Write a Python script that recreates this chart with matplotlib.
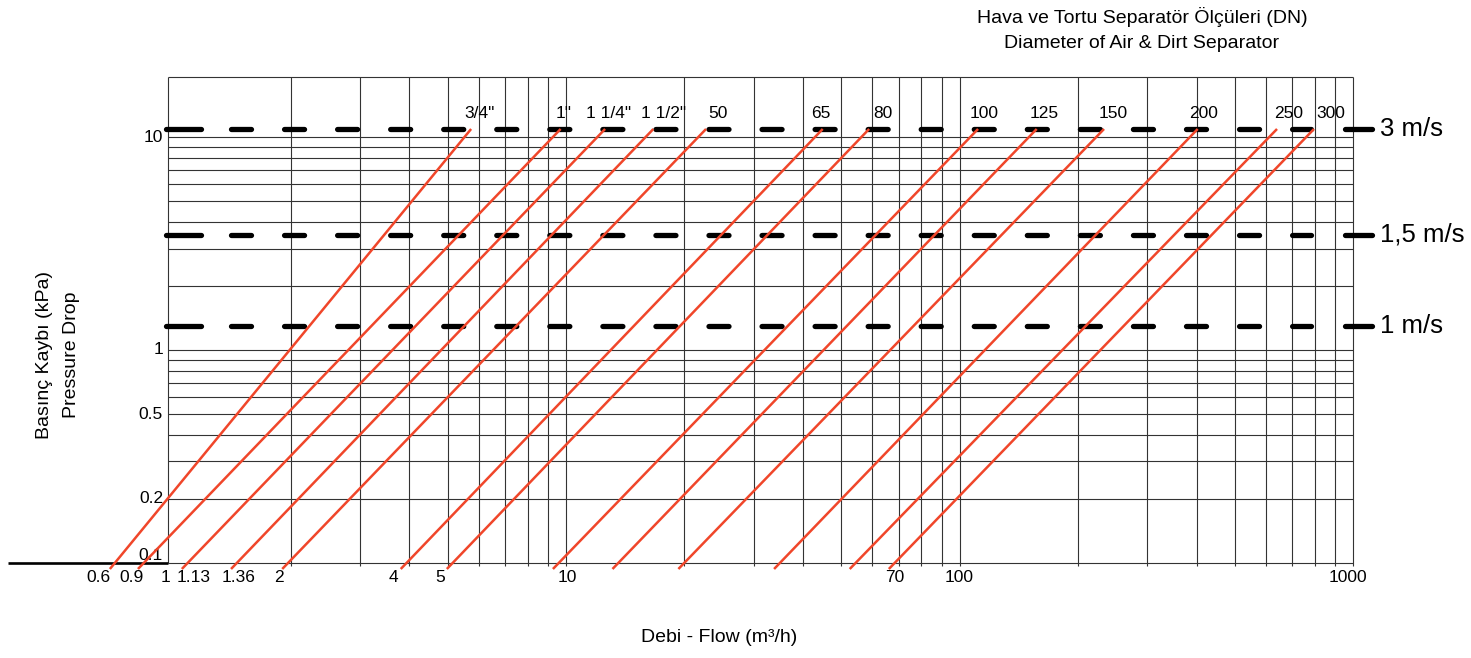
"""
Hava ve tortu separatörü basınç kaybı diyagramı (log-log).
"""
import matplotlib
matplotlib.use("Agg")
import matplotlib.pyplot as plt
from matplotlib import font_manager
import numpy as np

# --- veri ---
dn_labels = ['3/4"', '1"', '1 1/4"', '1 1/2"', '50', '65', '80', '100', '125', '150', '200', '250', '300']
flow_at_01kpa = [0.715, 0.847, 1.095, 1.46, 1.97, 3.94, 5.16, 9.6, 13.6, 20.0, 35.0, 54.5, 68.5]
flow_at_3ms = [5.74, 9.69, 12.57, 16.67, 22.69, 44.9, 58.9, 111.4, 157.0, 232.8, 402.6, 640.4, 795.1]

vel_labels = ["3 m/s", "1,5 m/s", "1 m/s"]
vel_kpa = [10.94, 3.48, 1.29]

x_tick_labels = ["0.6", "0.9", "1", "1.13", "1.36", "2", "4", "5", "10", "70", "100", "1000"]
y_tick_values = [10, 1, 0.5, 0.2, 0.1]
y_tick_labels = ["10", "1", "0.5", "0.2", "0.1"]

# --- yerleşim (piksel) ---
W, H = 1471, 658
X1_PX, DEC_X = 172.4, 393.6     # x=1 konumu, bir dekad genişliği
Y1_PX, DEC_Y = 350.0, 212.7     # y=1 konumu, bir dekad yüksekliği
x_tick_px = [98, 132, 166, 194, 239, 279, 393, 440, 567, 895, 959, 1348]
dn_label_px = [479.5, 563.5, 609, 664, 718, 821, 882.5, 984.5, 1044.5, 1113, 1203.7, 1289, 1330.7]


def fx(px):
    return 10 ** ((px - X1_PX) / DEC_X)


def fy(py):
    return 10 ** ((Y1_PX - py) / DEC_Y)


names = {f.name for f in font_manager.fontManager.ttflist}
FONT = "Liberation Sans Narrow" if "Liberation Sans Narrow" in names else "Liberation Sans"
plt.rcParams["font.family"] = [FONT, "DejaVu Sans"]
plt.rcParams["lines.scale_dashes"] = False

fig = plt.figure(figsize=(W / 100, H / 100), dpi=100)
ax = fig.add_axes([0, 0, 1, 1])
ax.set_xscale("log")
ax.set_yscale("log")
ax.set_xlim(fx(0), fx(W))
ax.set_ylim(fy(H), fy(0))
ax.axis("off")

grid_c = "#333333"
x_left, y_top = fx(167.5), fy(77)

# yatay ızgara
h_vals = [k * 0.1 for k in range(1, 10)] + list(range(1, 11))
ax.hlines(h_vals + [y_top], x_left, 1000, color=grid_c, lw=0.8, zorder=1)
# düşey ızgara
ax.vlines(x_left, 0.1, y_top, color=grid_c, lw=0.8, zorder=1)
v_vals = [m * 10 ** d for d in range(0, 3) for m in range(2, 11)]
ax.vlines(v_vals, fy(566), y_top, color=grid_c, lw=0.8, zorder=1)

# sol kalın taban çizgisi
ax.plot([fx(8), fx(168)], [0.1, 0.1], color="black", lw=1.9, solid_capstyle="butt", zorder=2)

# hız çizgileri (kesikli)
for lab, v in zip(vel_labels, vel_kpa):
    kw = dict(color="black", lw=3.8, zorder=3)
    ax.plot([fx(166), fx(201)], [v, v], solid_capstyle="round", **kw)
    ax.plot([fx(230.6), fx(1311.4)], [v, v], dash_capstyle="round", dashes=(14.4, 23.8), **kw)
    ax.plot([fx(1345.3), fx(1372.3)], [v, v], solid_capstyle="round", **kw)
    ax.text(fx(1380), v, lab, fontsize=18.5, ha="left", va="center", zorder=4)

# separatör eğrileri
y_bot = fy(569)
top = vel_kpa[0]
for x0, x1 in zip(flow_at_01kpa, flow_at_3ms):
    t = np.log(y_bot / 0.1) / np.log(top / 0.1)
    xb = x0 * (x1 / x0) ** t
    ax.plot([xb, x1], [y_bot, top], color="#f0462a", lw=1.8, solid_capstyle="butt", zorder=5)

for lab, px in zip(dn_labels, dn_label_px):
    ax.text(fx(px), fy(113), lab, fontsize=12.5, ha="center", va="center", zorder=4)

for lab, px in zip(x_tick_labels, x_tick_px):
    ax.text(fx(px), fy(578), lab, fontsize=12.5, ha="center", va="center")

for val, lab in zip(y_tick_values, y_tick_labels):
    ax.text(fx(163), val, lab, fontsize=12.5, ha="right",
            va="bottom" if val == 0.1 else "center")

fig.text(1142 / W, 1 - 17 / H, "Hava ve Tortu Separatör Ölçüleri (DN)", fontsize=14, ha="center", va="center")
fig.text(1142 / W, 1 - 44 / H, "Diameter of Air & Dirt Separator", fontsize=14, ha="center", va="center")
fig.text(45 / W, 1 - 355 / H, "Basınç Kaybı (kPa)", fontsize=14, rotation=90, ha="center", va="center")
fig.text(72 / W, 1 - 355 / H, "Pressure Drop", fontsize=14, rotation=90, ha="center", va="center")
fig.text(719 / W, 1 - 637 / H, "Debi - Flow (m³/h)", fontsize=14, ha="center", va="center")

fig.savefig("out.png", dpi=100)
